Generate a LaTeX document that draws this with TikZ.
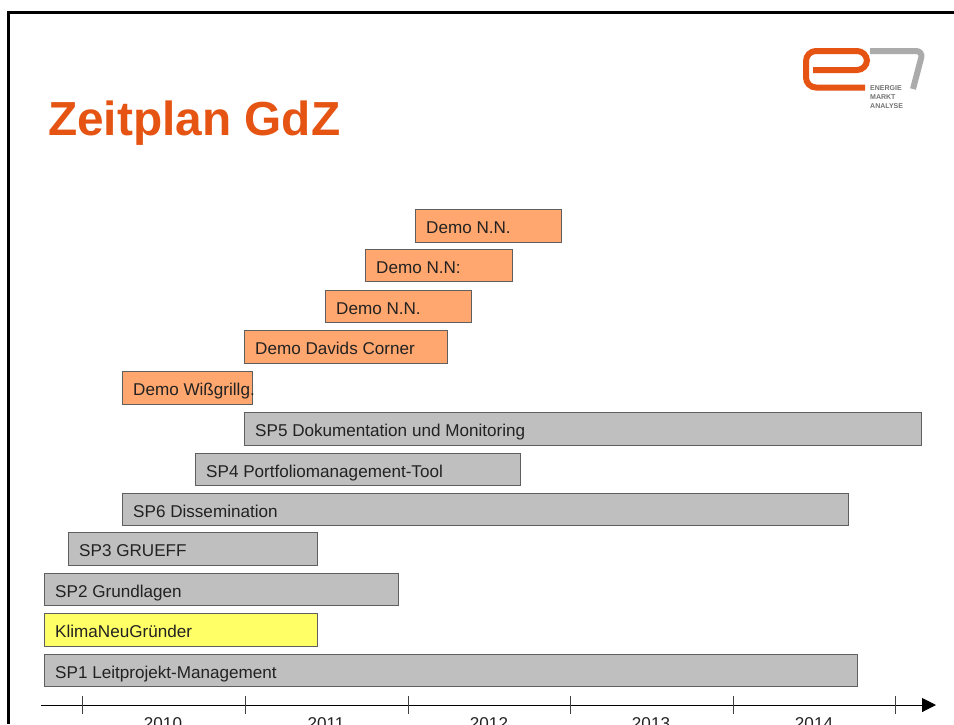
\documentclass[tikz,border=0pt]{standalone}
\usepackage{fontspec}
\setmainfont{Liberation Sans}
\usetikzlibrary{arrows.meta}
\definecolor{titleor}{HTML}{E55413}
\definecolor{barorange}{HTML}{FFA76F}
\definecolor{bargray}{HTML}{BFBFBF}
\definecolor{baryellow}{HTML}{FFFF66}
\definecolor{edgegray}{HTML}{5F5F5F}
\definecolor{logogray}{HTML}{ABABAB}
\definecolor{inktext}{HTML}{222222}
\tikzset{
  x=1pt,y=-1pt,
  bar/.style={draw=edgegray,line width=1.15pt,anchor=north west,inner sep=0pt,outer sep=0pt},
  bartext/.style={anchor=base west,inner sep=0pt,text=inktext,font=\fontsize{17.1}{19}\selectfont},
  yearlabel/.style={anchor=base,inner sep=0pt,text=inktext,font=\fontsize{17.1}{19}\selectfont},
  tickmark/.style={line width=0.9pt,draw=black!75},
  logotext/.style={anchor=base west,inner sep=0pt,text=black!55,font=\bfseries\fontsize{7}{8}\selectfont},
}
\newcommand{\ganttbar}[7]{%
  \node[bar,fill=#6,minimum width=#3-#2,minimum height=#5-#4] (#1) at (#2-0.5,#4-0.5) {};
  \node[bartext] (#1t) at (#2+10,#4+23) {#7};
}
\begin{document}
\begin{tikzpicture}
\useasboundingbox (0,0) rectangle (954,724);
\fill[white] (0,0) rectangle (954,724);
% slide frame
\draw[line width=3pt,black] (8.5,724) -- (8.5,12.5) -- (954,12.5);
% title
\node[anchor=base west,inner sep=0pt,text=titleor,font=\bfseries\fontsize{47.8}{52}\selectfont] (title) at (48,135) {Zeitplan GdZ};
% logo
\draw[titleor,line width=6pt,rounded corners=10pt] (813,70) -- (867,70) -- (867,51) -- (806,51) -- (806,87.5) -- (865,87.5);
\draw[logogray,line width=6pt,rounded corners=7pt] (870,51) -- (923,51) -- (913,89);
\node[logotext] (logoa) at (870,90) {ENERGIE};
\node[logotext] (logob) at (870,99) {MARKT};
\node[logotext] (logoc) at (870,108) {ANALYSE};
% bars
\ganttbar{d1}{416}{562}{210}{243}{barorange}{Demo N.N.}
\ganttbar{d2}{366}{513}{250}{282}{barorange}{Demo N.N:}
\ganttbar{d3}{326}{472}{291}{323}{barorange}{Demo N.N.}
\ganttbar{d4}{245}{448}{331}{364}{barorange}{Demo Davids Corner}
\ganttbar{d5}{123}{253}{372}{405}{barorange}{Demo Wißgrillg.}
\ganttbar{sp5}{245}{922}{413}{446}{bargray}{SP5 Dokumentation und Monitoring}
\ganttbar{sp4}{196}{521}{454}{486}{bargray}{SP4 Portfoliomanagement-Tool}
\ganttbar{sp6}{123}{849}{494}{526}{bargray}{SP6 Dissemination}
\ganttbar{sp3}{69}{318}{533}{566}{bargray}{SP3 GRUEFF}
\ganttbar{sp2}{45}{399}{574}{606}{bargray}{SP2 Grundlagen}
\ganttbar{kn}{45}{318}{614}{647}{baryellow}{KlimaNeuGründer}
\ganttbar{sp1}{45}{858}{655}{687}{bargray}{SP1 Leitprojekt-Management}
% time axis
\coordinate (axs) at (41,705);
\coordinate (axe) at (936,705);
\draw[line width=1pt,black,-{Triangle[length=14pt,width=14pt]}] (axs) -- (axe);
\foreach \tx in {82,245,408,570,733,895}{\draw[tickmark] (\tx,696) -- (\tx,714);}
\node[yearlabel] (y0) at (163,729) {2010};
\node[yearlabel] (y1) at (326,729) {2011};
\node[yearlabel] (y2) at (489,729) {2012};
\node[yearlabel] (y3) at (651,729) {2013};
\node[yearlabel] (y4) at (814,729) {2014};
\end{tikzpicture}
\end{document}
